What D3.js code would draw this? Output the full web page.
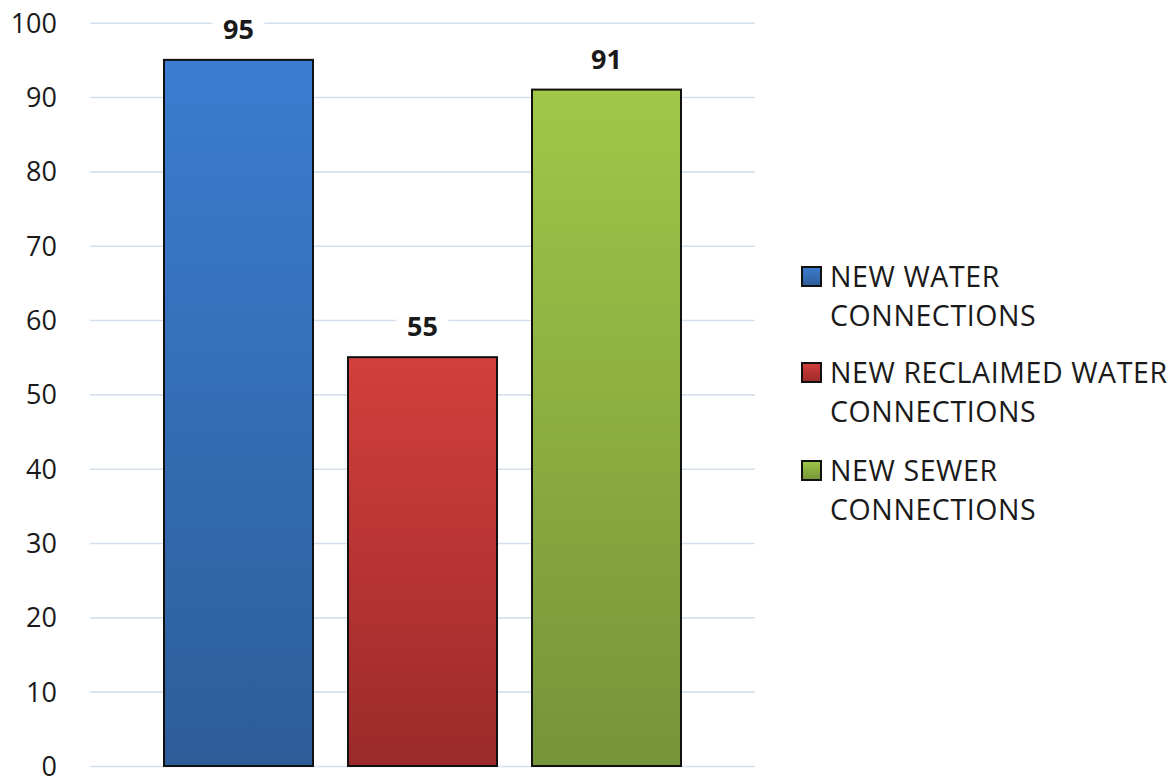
<!DOCTYPE html>
<html>
<head>
<meta charset="utf-8">
<script src="https://cdn.jsdelivr.net/npm/d3@7/dist/d3.min.js"></script>
<style>
  html, body { margin: 0; padding: 0; background: #fff; }
  svg { display: block; }
  text { font-family: "Open Sans", "Liberation Sans", sans-serif; fill: #1a1a1a; }
</style>
</head>
<body>
<svg id="chart" width="1172" height="778"></svg>
<script>
const series = ["NEW WATER CONNECTIONS", "NEW RECLAIMED WATER CONNECTIONS", "NEW SEWER CONNECTIONS"];
const legendLines = [["NEW WATER", "CONNECTIONS"], ["NEW RECLAIMED WATER", "CONNECTIONS"], ["NEW SEWER", "CONNECTIONS"]];
const values = [95, 55, 91];
const tickValues = [0, 10, 20, 30, 40, 50, 60, 70, 80, 90, 100];
const colorTop = ["#3b7dd0", "#d33f3c", "#a0c748"];
const colorBottom = ["#2d5d99", "#9b2a2a", "#769439"];

const svg = d3.select("#chart");
const y = d3.scaleLinear().domain([0, 100]).range([766, 22.7]);
const x = d3.scaleBand().domain(series).range([164, 681]).paddingInner(35 / 184).paddingOuter(0);

const defs = svg.append("defs");
series.forEach((s, i) => {
  const g = defs.append("linearGradient").attr("id", "grad" + i)
    .attr("x1", 0).attr("y1", 0).attr("x2", 0).attr("y2", 1);
  g.append("stop").attr("offset", "0%").attr("stop-color", colorTop[i]);
  g.append("stop").attr("offset", "100%").attr("stop-color", colorBottom[i]);
});

// gridlines
const yAxisGrid = d3.axisLeft(y).tickValues(tickValues).tickSize(-(755 - 90)).tickFormat("");
const grid = svg.append("g").attr("transform", "translate(90,0)").call(yAxisGrid);
grid.select(".domain").remove();
grid.selectAll("line").attr("stroke", "#d5e0ee").attr("stroke-width", 1.6);

// tick labels
const yAxis = d3.axisLeft(y).tickValues(tickValues).tickSize(0).tickPadding(0).tickFormat(d3.format("d"));
const ax = svg.append("g").attr("transform", "translate(57,0)").call(yAxis);
ax.select(".domain").remove();
ax.selectAll("text").attr("font-size", 27).attr("fill", "#1a1a1a")
  .attr("font-family", "'Open Sans', sans-serif").attr("dy", "0.35em");

// bars
svg.append("g").selectAll("rect").data(values).join("rect")
  .attr("x", (d, i) => x(series[i]))
  .attr("y", d => y(d))
  .attr("width", x.bandwidth())
  .attr("height", d => y(0) - y(d))
  .attr("fill", (d, i) => `url(#grad${i})`)
  .attr("stroke", "#111")
  .attr("stroke-width", 2);

// value labels with white background
const lbl = svg.append("g").selectAll("g").data(values).join("g");
lbl.append("rect")
  .attr("x", (d, i) => x(series[i]) + x.bandwidth() / 2 - 26)
  .attr("y", d => y(d) - 46)
  .attr("width", 52)
  .attr("height", 28)
  .attr("fill", "#fff");
lbl.append("text")
  .attr("x", (d, i) => x(series[i]) + x.bandwidth() / 2)
  .attr("y", d => y(d) - 21)
  .attr("text-anchor", "middle")
  .attr("font-size", 27)
  .attr("font-weight", "bold")
  .text(d => d);

// legend
const legendTop = [287, 383, 481];
const lg = svg.append("g").selectAll("g").data(series).join("g");
lg.append("rect")
  .attr("x", 802)
  .attr("y", (d, i) => legendTop[i] - 20)
  .attr("width", 19)
  .attr("height", 19)
  .attr("fill", (d, i) => `url(#grad${i})`)
  .attr("stroke", "#111")
  .attr("stroke-width", 2);
lg.each(function(d, i) {
  const t = d3.select(this).append("text").attr("font-size", 28.5).attr("letter-spacing", 0.6);
  legendLines[i].forEach((line, j) => {
    t.append("tspan").attr("x", 830).attr("y", legendTop[i] + j * 38.5).text(line);
  });
});
</script>
</body>
</html>
